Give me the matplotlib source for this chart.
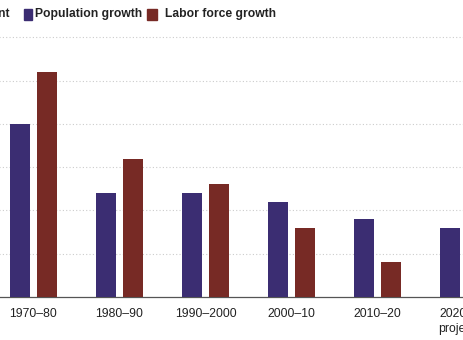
import numpy as np
import matplotlib
matplotlib.use("Agg")
import matplotlib.pyplot as plt
from matplotlib.patches import Rectangle

# Datos (porcentaje de crecimiento anual por década)
decadas = ["1970–80", "1980–90", "1990–2000", "2000–10", "2010–20", "2020–30\nprojected"]
poblacion = [2.0, 1.2, 1.2, 1.1, 0.9, 0.8]
fuerza_laboral = [2.6, 1.6, 1.3, 0.8, 0.4, 0.5]

azul = "#3b2d72"
rojo = "#772a25"

plt.rcParams["font.family"] = ["Liberation Sans", "DejaVu Sans"]

fig = plt.figure(figsize=(4.64, 3.4), dpi=100)
# Ejes más anchos que la figura: la imagen original está recortada
ax = fig.add_axes([-52.5 / 464, 43 / 340, 602 / 464, 277 / 340])

x = np.arange(len(decadas))
ancho = 0.233
ax.bar(x - 0.154, poblacion, ancho, color=azul, zorder=3)
ax.bar(x + 0.154, fuerza_laboral, ancho, color=rojo, zorder=3)

ax.set_xlim(-1, 6)
ax.set_ylim(0, 3.2)
ax.set_xticks(x)
ax.set_xticklabels(decadas, fontsize=8.8, color="#222222", linespacing=1.3)
ax.set_yticks(np.arange(0.5, 3.01, 0.5))
ax.tick_params(axis="x", length=0, pad=8)
ax.tick_params(axis="y", length=0, labelleft=False)
ax.grid(axis="y", linestyle=(0, (1, 2)), color="#cccccc", linewidth=0.8, zorder=0)

for lado in ["top", "right", "left"]:
    ax.spines[lado].set_visible(False)
ax.spines["bottom"].set_color("#555555")
ax.spines["bottom"].set_linewidth(0.9)

# Leyenda manual en la parte superior
y_ley = 1 - 14 / 340
fig.text(10 / 464, y_ley, "Percent", ha="right", va="center",
         fontsize=8.7, fontweight="bold", color="#222222")
fig.patches.append(Rectangle((24 / 464, 1 - 19.5 / 340), 8.5 / 464, 11 / 340,
                             transform=fig.transFigure, color=azul))
fig.text(35 / 464, y_ley, "Population growth", ha="left", va="center",
         fontsize=8.7, fontweight="bold", color="#222222")
fig.patches.append(Rectangle((147 / 464, 1 - 19.5 / 340), 10 / 464, 11 / 340,
                             transform=fig.transFigure, color=rojo))
fig.text(165 / 464, y_ley, "Labor force growth", ha="left", va="center",
         fontsize=8.7, fontweight="bold", color="#222222")

fig.savefig("out.png", dpi=100)
